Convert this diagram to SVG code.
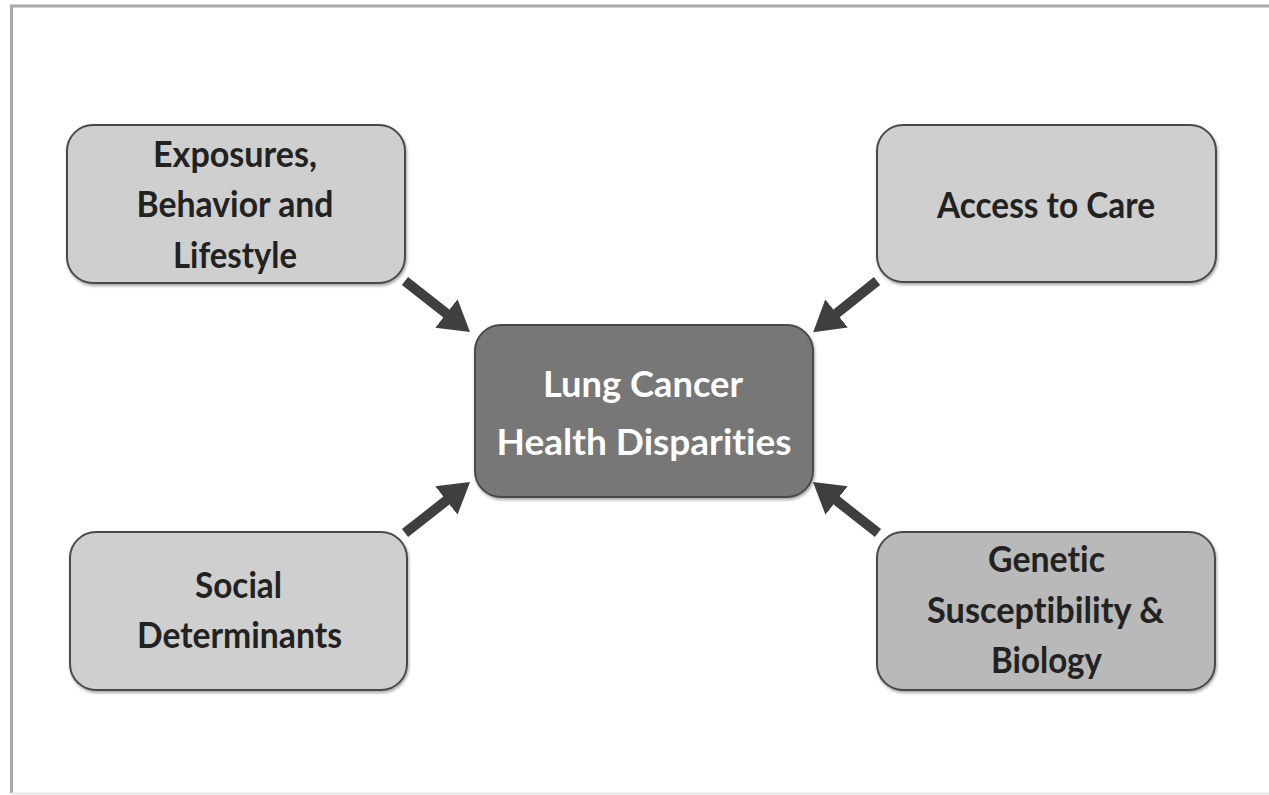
<svg xmlns="http://www.w3.org/2000/svg" width="1269" height="795" viewBox="0 0 1269 795">
  <style>
    .box { stroke: #4a4a4a; stroke-width: 2; filter: url(#shadow); }
    .light { fill: #cfcfcf; }
    .mid { fill: #b9b9b9; }
    .dark { fill: #777777; }
    .lbl { font-family: Lato, "Open Sans", sans-serif; font-weight: bold; font-size: 37px; text-anchor: middle; fill: #222222; font-variant-ligatures: none; font-feature-settings: "liga" 0, "clig" 0; }
    .lblw { fill: #ffffff; }
    .arrow { stroke: #3f3f3f; stroke-width: 10; fill: none; marker-end: url(#head); }
    .frame { stroke: #a8a8a8; stroke-width: 3; fill: none; }
  </style>
  <defs>
    <filter id="shadow" x="-10%" y="-10%" width="120%" height="130%">
      <feDropShadow dx="1" dy="2" stdDeviation="1.5" flood-color="#000000" flood-opacity="0.35"/>
    </filter>
    <marker id="head" viewBox="0 0 30 36" refX="2" refY="18" markerWidth="30" markerHeight="36" markerUnits="userSpaceOnUse" orient="auto">
      <path d="M0,0 L30,18 L0,36 Z" fill="#3f3f3f"/>
    </marker>
  </defs>
  <rect width="1269" height="795" fill="#ffffff"/>
  <path class="frame" d="M1269,6 L11.5,6 L11.5,793"/>
  <line x1="11.5" y1="793.5" x2="1269" y2="793.5" stroke="#e6e6e6" stroke-width="2"/>

  <g id="connectors">
    <line class="arrow" x1="405" y1="281" x2="448" y2="314.7"/>
    <line class="arrow" x1="877" y1="281" x2="835" y2="314.7"/>
    <line class="arrow" x1="405" y1="533" x2="448" y2="499.3"/>
    <line class="arrow" x1="878" y1="533" x2="835" y2="499.3"/>
  </g>

  <g id="exposures">
    <rect class="box light" x="67" y="125" width="338" height="158" rx="26"/>
    <text class="lbl" x="235" y="167" textLength="164" lengthAdjust="spacingAndGlyphs">Exposures,</text>
    <text class="lbl" x="235" y="217" textLength="197" lengthAdjust="spacingAndGlyphs">Behavior and</text>
    <text class="lbl" x="235" y="268" textLength="124" lengthAdjust="spacingAndGlyphs">Lifestyle</text>
  </g>

  <g id="access">
    <rect class="box light" x="877" y="125" width="339" height="157" rx="26"/>
    <text class="lbl" x="1046" y="218" textLength="218" lengthAdjust="spacingAndGlyphs">Access to Care</text>
  </g>

  <g id="center">
    <rect class="box dark" x="475" y="325" width="338" height="172" rx="26"/>
    <text class="lbl lblw" x="643" y="397" textLength="200" lengthAdjust="spacingAndGlyphs">Lung Cancer</text>
    <text class="lbl lblw" x="644" y="455" textLength="295" lengthAdjust="spacingAndGlyphs">Health Disparities</text>
  </g>

  <g id="social">
    <rect class="box light" x="70" y="532" width="337" height="158" rx="26"/>
    <text class="lbl" x="238.5" y="598" textLength="87" lengthAdjust="spacingAndGlyphs">Social</text>
    <text class="lbl" x="239.5" y="648" textLength="205" lengthAdjust="spacingAndGlyphs">Determinants</text>
  </g>

  <g id="genetic">
    <rect class="box mid" x="877" y="532" width="338" height="158" rx="26"/>
    <text class="lbl" x="1046.5" y="572" textLength="117" lengthAdjust="spacingAndGlyphs">Genetic</text>
    <text class="lbl" x="1045.5" y="623" textLength="237" lengthAdjust="spacingAndGlyphs">Susceptibility &amp;</text>
    <text class="lbl" x="1046.5" y="673" textLength="111" lengthAdjust="spacingAndGlyphs">Biology</text>
  </g>
</svg>
